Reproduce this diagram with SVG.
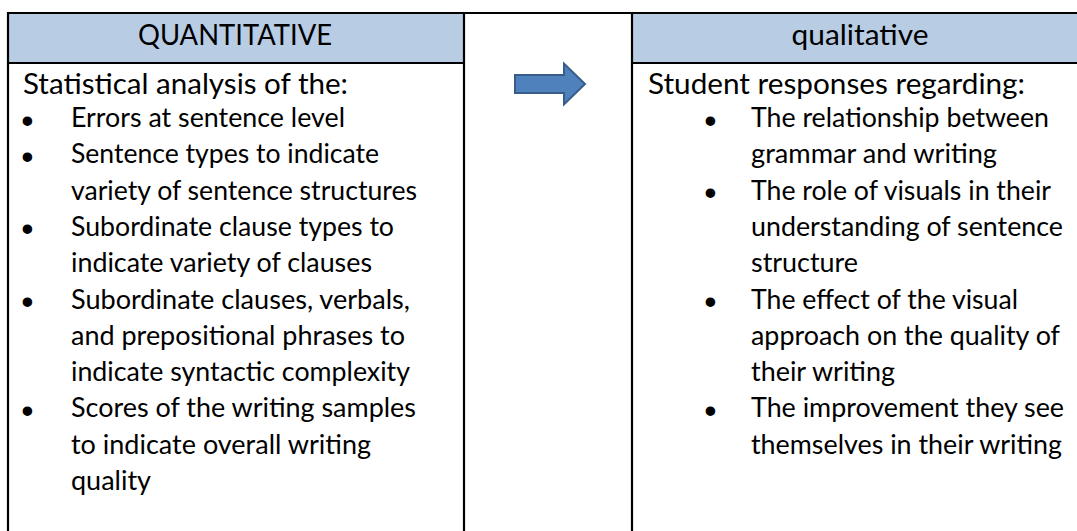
<svg xmlns="http://www.w3.org/2000/svg" width="1077" height="531" viewBox="0 0 1077 531">
  <style>
    .hdr { fill: #b8cce4; }
    .line { stroke: #000; stroke-width: 2.2; fill: none; }
    .hd { font-family: Lato, "Liberation Sans", sans-serif; font-size: 29.2px; fill: #000; }
    .bt { font-family: Lato, "Liberation Sans", sans-serif; font-size: 26.4px; fill: #000; }
    .bul { font-family: "Liberation Sans", sans-serif; font-size: 35px; fill: #000; text-anchor: middle; }
    .arrow { fill: #4f81bd; stroke: #385d8a; stroke-width: 2; }
  </style>
  <rect width="1077" height="531" fill="#fff"/>

  <g id="quantitative">
    <rect class="hdr" x="8" y="13" width="456" height="50"/>
    <text class="hd" x="235" y="45" text-anchor="middle" textLength="194" lengthAdjust="spacingAndGlyphs">QUANTITATIVE</text>
    <text class="hd" x="23" y="94" textLength="325" lengthAdjust="spacingAndGlyphs">Statistical analysis of the:</text>
    <g class="bullets">
      <text class="bul" x="27.5" y="132.5">•</text>
      <text class="bul" x="27.5" y="168.8">•</text>
      <text class="bul" x="27.5" y="241.4">•</text>
      <text class="bul" x="27.5" y="314">•</text>
      <text class="bul" x="27.5" y="422.9">•</text>
    </g>
    <text class="bt" x="71" y="127" textLength="274" lengthAdjust="spacingAndGlyphs">Errors at sentence level</text>
    <text class="bt" x="71" y="163.3" textLength="308" lengthAdjust="spacingAndGlyphs">Sentence types to indicate</text>
    <text class="bt" x="71" y="199.6" textLength="346" lengthAdjust="spacingAndGlyphs">variety of sentence structures</text>
    <text class="bt" x="71" y="235.9" textLength="323" lengthAdjust="spacingAndGlyphs">Subordinate clause types to</text>
    <text class="bt" x="71" y="272.2" textLength="301" lengthAdjust="spacingAndGlyphs">indicate variety of clauses</text>
    <text class="bt" x="71" y="308.5" textLength="339" lengthAdjust="spacingAndGlyphs">Subordinate clauses, verbals,</text>
    <text class="bt" x="71" y="344.8" textLength="334" lengthAdjust="spacingAndGlyphs">and prepositional phrases to</text>
    <text class="bt" x="71" y="381.1" textLength="339" lengthAdjust="spacingAndGlyphs">indicate syntactic complexity</text>
    <text class="bt" x="71" y="417.4" textLength="345" lengthAdjust="spacingAndGlyphs">Scores of the writing samples</text>
    <text class="bt" x="71" y="453.7" textLength="300" lengthAdjust="spacingAndGlyphs">to indicate overall writing</text>
    <text class="bt" x="71" y="490" textLength="80" lengthAdjust="spacingAndGlyphs">quality</text>
  </g>

  <g id="qualitative">
    <rect class="hdr" x="632" y="13" width="460" height="50"/>
    <text class="hd" x="860" y="45" text-anchor="middle" textLength="137" lengthAdjust="spacingAndGlyphs">qualitative</text>
    <text class="hd" x="648" y="94" textLength="377" lengthAdjust="spacingAndGlyphs">Student responses regarding:</text>
    <g class="bullets">
      <text class="bul" x="710.5" y="132.5">•</text>
      <text class="bul" x="710.5" y="205.1">•</text>
      <text class="bul" x="710.5" y="314">•</text>
      <text class="bul" x="710.5" y="422.9">•</text>
    </g>
    <text class="bt" x="751" y="127" textLength="298" lengthAdjust="spacingAndGlyphs">The relationship between</text>
    <text class="bt" x="751" y="163.3" textLength="246" lengthAdjust="spacingAndGlyphs">grammar and writing</text>
    <text class="bt" x="751" y="199.6" textLength="300" lengthAdjust="spacingAndGlyphs">The role of visuals in their</text>
    <text class="bt" x="751" y="235.9" textLength="312" lengthAdjust="spacingAndGlyphs">understanding of sentence</text>
    <text class="bt" x="751" y="272.2" textLength="107" lengthAdjust="spacingAndGlyphs">structure</text>
    <text class="bt" x="751" y="308.5" textLength="267" lengthAdjust="spacingAndGlyphs">The effect of the visual</text>
    <text class="bt" x="751" y="344.8" textLength="309" lengthAdjust="spacingAndGlyphs">approach on the quality of</text>
    <text class="bt" x="751" y="381.1" textLength="144" lengthAdjust="spacingAndGlyphs">their writing</text>
    <text class="bt" x="751" y="417.4" textLength="313" lengthAdjust="spacingAndGlyphs">The improvement they see</text>
    <text class="bt" x="751" y="453.7" textLength="311" lengthAdjust="spacingAndGlyphs">themselves in their writing</text>
  </g>

  <g id="arrow-node">
    <path class="arrow" d="M515,75 L564,75 L564,63.5 L585,84 L564,104.5 L564,93 L515,93 Z"/>
  </g>

  <g id="connectors">
    <path class="line" d="M8,13 H1077"/>
    <path class="line" d="M8,63 H464 M632,63 H1077"/>
    <path class="line" d="M8,12 V531 M464,12 V531 M632,12 V531"/>
  </g>
</svg>
